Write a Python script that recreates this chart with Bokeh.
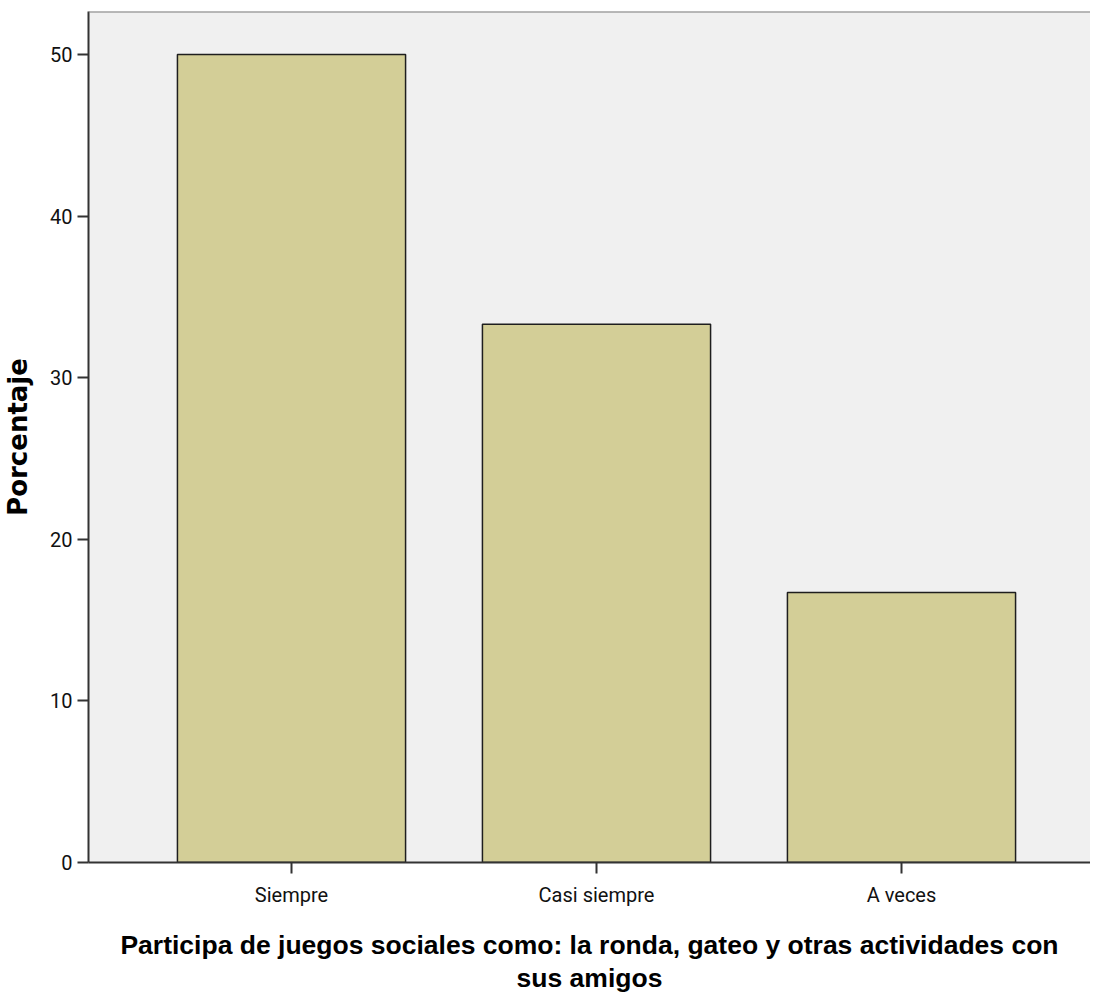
from bokeh.plotting import figure
from bokeh.models import Range1d, FixedTicker, Span
from bokeh.embed import file_html
from bokeh.resources import INLINE

categories = ["Siempre", "Casi siempre", "A veces"]
percentages = [50.0, 33.3, 16.7]
y_ticks = [0, 10, 20, 30, 40, 50]
x_label = "Participa de juegos sociales como: la ronda, gateo y otras actividades con\nsus amigos"
y_label = "Porcentaje"

x_pos = list(range(1, len(categories) + 1))
Y_END = 52.66

p = figure(
    frame_width=1002, frame_height=851,
    min_border_left=81, min_border_top=11, min_border_right=0, min_border_bottom=120,
    x_range=Range1d(0.3344, 3.6197), y_range=Range1d(0, Y_END),
    output_backend="svg", toolbar_location=None,
    background_fill_color="#F0F0F0", border_fill_color="white",
)
p.outline_line_color = None
p.xgrid.visible = False
p.ygrid.visible = False

p.vbar(x=x_pos, top=percentages, width=0.748, bottom=0,
       fill_color="#D3CE97", line_color="#1E1E1E", line_width=1.5)

p.add_layout(Span(location=Y_END, dimension="width", line_color="#7A7A7A", line_width=2))

for ax in (p.xaxis[0], p.yaxis[0]):
    ax.axis_line_color = "#333333"
    ax.axis_line_width = 2
    ax.major_tick_line_color = "#333333"
    ax.major_tick_line_width = 2
    ax.major_tick_out = 11
    ax.major_tick_in = 0
    ax.minor_tick_line_color = None
    ax.major_label_text_font = "Roboto"
    ax.major_label_text_font_size = "20px"
    ax.major_label_text_color = "#111111"
    ax.axis_label_text_color = "#000000"
    ax.axis_label_text_font_style = "bold"

p.xaxis.ticker = FixedTicker(ticks=x_pos)
p.xaxis.major_label_overrides = {x: c for x, c in zip(x_pos, categories)}
p.xaxis.major_label_standoff = 9
p.xaxis.axis_label = x_label
p.xaxis.axis_label_text_font = "Liberation Sans"
p.xaxis.axis_label_text_font_size = "26.5px"
p.xaxis.axis_label_standoff = 20
p.xaxis.axis_label_text_line_height = 1.1

p.yaxis.ticker = FixedTicker(ticks=y_ticks)
p.yaxis.major_label_standoff = 5
p.yaxis.axis_label = y_label
p.yaxis.axis_label_text_font = "DejaVu Sans"
p.yaxis.axis_label_text_font_size = "26px"
p.yaxis.axis_label_standoff = 14

open("out.html", "w").write(file_html(p, INLINE))
